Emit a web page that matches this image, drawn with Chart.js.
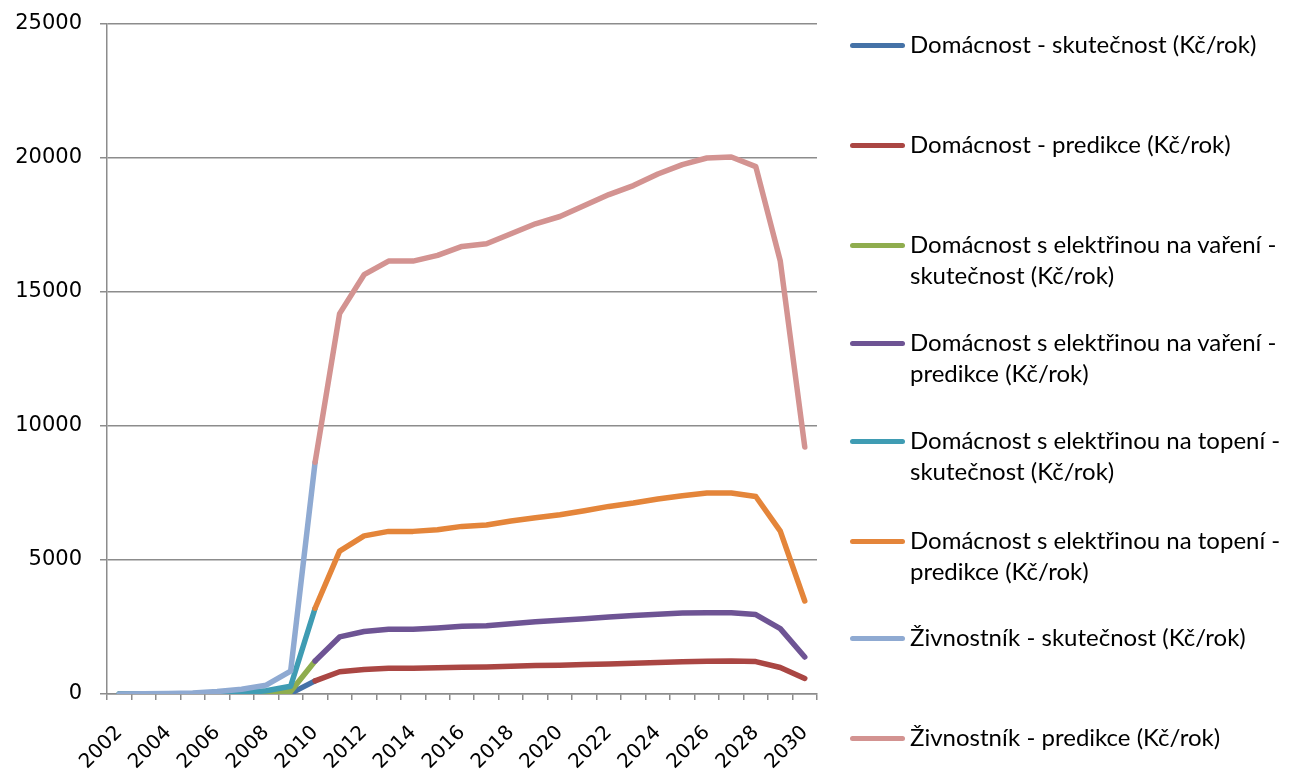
<!DOCTYPE html>
<html>
<head>
<meta charset="utf-8">
<script src="https://cdn.jsdelivr.net/npm/chart.js@4.4.0/dist/chart.umd.min.js"></script>
<style>
  html, body { margin: 0; padding: 0; background: #fff; }
  #wrap { position: relative; width: 1291px; height: 777px; }
  #box { position: absolute; left: 0; top: 0; width: 830px; height: 777px; }
  #legend { position: absolute; left: 0; top: 0; width: 1291px; height: 777px; pointer-events: none;
            font-family: Lato, "Open Sans", sans-serif; font-size: 24px; color: #000; }
  .item { position: absolute; left: 850px; }
  .sw { position: absolute; left: 0; width: 55px; height: 5px; border-radius: 3px; }
  .tx { position: absolute; left: 60px; width: 420px; line-height: 31px; white-space: nowrap; }
</style>
</head>
<body>
<div id="wrap">
  <div id="box"><canvas id="c"></canvas></div>
  <div id="legend"></div>
</div>
<script>
// roky na ose x
const roky = [];
for (let r = 2002; r <= 2030; r++) roky.push(String(r));

// skutečnost 2002–2010
const domSkut    = [0, 0, 0, 0, 2, 5, 10, 25, 490];
const varSkut    = [0, 0, 0, 0, 5, 15, 40, 90, 1230];
const topSkut    = [0, 0, 0, 5, 15, 40, 120, 290, 3200];
const zivSkut    = [0, 5, 20, 40, 90, 180, 330, 850, 8650];

// predikce 2010–2030
const domPred = [490, 830, 913, 963, 963, 981, 1000, 1012, 1037, 1062, 1074, 1099, 1124, 1149, 1174, 1199, 1223, 1230, 1210, 990, 580];
const varPred = [1230, 2130, 2330, 2415, 2415, 2465, 2525, 2550, 2625, 2700, 2750, 2810, 2875, 2925, 2975, 3020, 3035, 3035, 2965, 2440, 1380];
const topPred = [3200, 5330, 5900, 6068, 6068, 6130, 6254, 6304, 6453, 6577, 6689, 6838, 7000, 7124, 7273, 7400, 7500, 7500, 7370, 6080, 3470];
const zivPred = [8650, 14193, 15645, 16154, 16154, 16365, 16700, 16800, 17172, 17544, 17817, 18227, 18636, 18971, 19405, 19752, 20000, 20037, 19680, 16155, 9216];

const nazvy = [
  ['Domácnost - skutečnost (Kč/rok)'],
  ['Domácnost - predikce (Kč/rok)'],
  ['Domácnost s elektřinou na vaření -', 'skutečnost (Kč/rok)'],
  ['Domácnost s elektřinou na vaření -', 'predikce (Kč/rok)'],
  ['Domácnost s elektřinou na topení -', 'skutečnost (Kč/rok)'],
  ['Domácnost s elektřinou na topení -', 'predikce (Kč/rok)'],
  ['Živnostník - skutečnost (Kč/rok)'],
  ['Živnostník - predikce (Kč/rok)']
];
const barvy = ['#4572A7', '#AA4643', '#8FAD4E', '#6E5494', '#3F9CB3', '#E4853A', '#8FAAD2', '#D39391'];
const legendaY = [45, 145, 245, 343, 441, 541, 638, 738];

// skutečnost: hodnoty 2002–2010, predikce: hodnoty 2010–2030
const skut = arr => arr.concat(new Array(roky.length - arr.length).fill(null));
const pred = arr => new Array(roky.length - arr.length).fill(null).concat(arr);
const rady = [skut(domSkut), pred(domPred), skut(varSkut), pred(varPred),
              skut(topSkut), pred(topPred), skut(zivSkut), pred(zivPred)];

const datasets = rady.map((d, i) => ({
  label: nazvy[i].join(' '),
  data: d,
  borderColor: barvy[i],
  backgroundColor: barvy[i],
  borderWidth: 5.5,
  pointRadius: 0,
  tension: 0,
  borderCapStyle: 'round',
  borderJoinStyle: 'round',
  order: rady.length - i
}));

const seda = '#8C8C8C';

new Chart(document.getElementById('c'), {
  type: 'line',
  data: { labels: roky, datasets: datasets },
  options: {
    responsive: true,
    maintainAspectRatio: false,
    animation: false,
    layout: { padding: { top: 24, right: 13, left: 0, bottom: 0 } },
    plugins: { legend: { display: false }, tooltip: { enabled: false } },
    scales: {
      x: {
        type: 'category',
        offset: true,
        grid: { offset: true, drawOnChartArea: false, drawTicks: true, tickLength: 6, color: seda, lineWidth: 1.5 },
        border: { color: seda, width: 1.5 },
        ticks: {
          autoSkip: false, maxRotation: 45, minRotation: 45, color: '#000',
          font: { family: 'DejaVu Sans', size: 20 }, padding: 21,
          callback: function(v, i) { return i % 2 === 0 ? this.getLabelForValue(v) : ''; }
        },
        afterFit: s => { s.height = 83; s.paddingLeft = 0; s.paddingRight = 0; }
      },
      y: {
        min: 0, max: 25000,
        grid: { color: seda, lineWidth: 1.5, tickLength: 7 },
        border: { color: seda, width: 1.5 },
        ticks: { stepSize: 5000, color: '#000', font: { family: 'DejaVu Sans', size: 21 }, padding: 18,
                 callback: v => String(v) },
        afterFit: s => { s.width = 107; s.paddingTop = 0; s.paddingBottom = 0; }
      }
    }
  }
});

// legenda
const leg = document.getElementById('legend');
nazvy.forEach((n, i) => {
  const it = document.createElement('div');
  it.className = 'item';
  it.style.top = legendaY[i] + 'px';
  const sw = document.createElement('div');
  sw.className = 'sw';
  sw.style.background = barvy[i];
  sw.style.top = '-2px';
  const tx = document.createElement('div');
  tx.className = 'tx';
  tx.style.top = '-17px';
  tx.innerHTML = n.join('<br>');
  it.appendChild(sw);
  it.appendChild(tx);
  leg.appendChild(it);
});
</script>
</body>
</html>
